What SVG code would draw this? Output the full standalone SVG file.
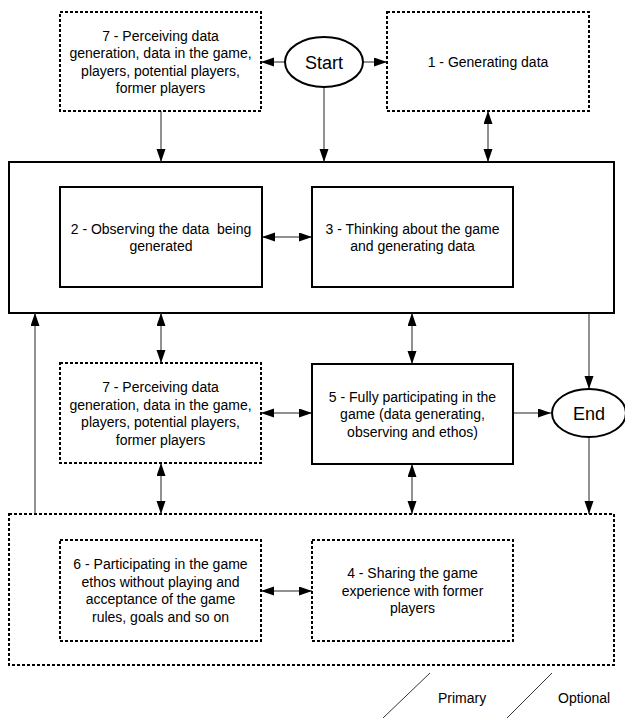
<svg xmlns="http://www.w3.org/2000/svg" width="625" height="718" viewBox="0 0 625 718">
  <style>
    .solid { fill: #ffffff; stroke: #000000; stroke-width: 2; }
    .dash { fill: #ffffff; stroke: #000000; stroke-width: 2; stroke-dasharray: 3 2; }
    .term { fill: #ffffff; stroke: #000000; stroke-width: 2; }
    .lbl { font-family: "Liberation Sans", Arial, sans-serif; font-size: 14px; fill: #000000; text-anchor: middle; }
    .big { font-size: 18px; }
    .leg { font-family: "Liberation Sans", Arial, sans-serif; font-size: 14px; fill: #000000; }
    .wire { fill: none; stroke: #222222; stroke-width: 1; }
    .one { marker-end: url(#head); }
    .two { marker-start: url(#head); marker-end: url(#head); }
  </style>
  <defs>
    <marker id="head" markerUnits="userSpaceOnUse" markerWidth="14" markerHeight="10" refX="13" refY="4.5" orient="auto-start-reverse">
      <path d="M0,0 L13,4.5 L0,9 Z" fill="#000000"/>
    </marker>
  </defs>

  <rect width="625" height="718" fill="#ffffff"/>

  <!-- outer group frames -->
  <g id="stage-top">
    <rect class="solid" x="9" y="162" width="605" height="151"/>
  </g>
  <g id="stage-bottom">
    <rect class="dash" x="9" y="514" width="605" height="151"/>
  </g>

  <!-- connectors -->
  <g id="connectors">
    <line class="wire one" x1="285" y1="62" x2="261" y2="62"/>
    <line class="wire one" x1="363" y1="62" x2="387" y2="62"/>
    <line class="wire one" x1="161" y1="111" x2="161" y2="162"/>
    <line class="wire one" x1="324" y1="87" x2="324" y2="162"/>
    <line class="wire two" x1="488" y1="111" x2="488" y2="162"/>
    <line class="wire two" x1="262" y1="237" x2="312" y2="237"/>
    <line class="wire two" x1="161" y1="313" x2="161" y2="363"/>
    <line class="wire two" x1="412" y1="313" x2="412" y2="364"/>
    <line class="wire one" x1="589" y1="313" x2="589" y2="389"/>
    <line class="wire one" x1="35" y1="514" x2="35" y2="313"/>
    <line class="wire two" x1="261" y1="413" x2="312" y2="413"/>
    <line class="wire one" x1="513" y1="413" x2="551" y2="413"/>
    <line class="wire two" x1="161" y1="463" x2="161" y2="514"/>
    <line class="wire two" x1="412" y1="464" x2="412" y2="514"/>
    <line class="wire one" x1="589" y1="437" x2="589" y2="514"/>
    <line class="wire two" x1="261" y1="591" x2="312" y2="591"/>
  </g>

  <g id="start">
    <ellipse class="term" cx="324" cy="62" rx="39" ry="25"/>
    <text class="lbl big" x="324" y="68.5">Start</text>
  </g>

  <g id="perceiving-top">
    <rect class="dash" x="60" y="12" width="201" height="99"/>
    <text class="lbl" x="160.5" y="40.5">7 - Perceiving data</text>
    <text class="lbl" x="160.5" y="58">generation, data in the game,</text>
    <text class="lbl" x="160.5" y="75.5">players, potential players,</text>
    <text class="lbl" x="160.5" y="93">former players</text>
  </g>

  <g id="generating">
    <rect class="dash" x="387" y="12" width="202" height="99"/>
    <text class="lbl" x="488" y="66.5">1 - Generating data</text>
  </g>

  <g id="observing">
    <rect class="solid" x="60" y="187" width="202" height="100"/>
    <text class="lbl" x="161" y="233.5" xml:space="preserve">2 - Observing the data  being</text>
    <text class="lbl" x="161" y="251">generated</text>
  </g>

  <g id="thinking">
    <rect class="solid" x="312" y="187" width="201" height="100"/>
    <text class="lbl" x="412.5" y="233.5">3 - Thinking about the game</text>
    <text class="lbl" x="412.5" y="251">and generating data</text>
  </g>

  <g id="perceiving-mid">
    <rect class="dash" x="60" y="363" width="201" height="100"/>
    <text class="lbl" x="160.5" y="392">7 - Perceiving data</text>
    <text class="lbl" x="160.5" y="409.5">generation, data in the game,</text>
    <text class="lbl" x="160.5" y="427">players, potential players,</text>
    <text class="lbl" x="160.5" y="444.5">former players</text>
  </g>

  <g id="participating">
    <rect class="solid" x="312" y="364" width="201" height="100"/>
    <text class="lbl" x="412.5" y="401.5">5 - Fully participating in the</text>
    <text class="lbl" x="412.5" y="419">game (data generating,</text>
    <text class="lbl" x="412.5" y="436.5">observing and ethos)</text>
  </g>

  <g id="end">
    <ellipse class="term" cx="589" cy="413" rx="37" ry="24"/>
    <text class="lbl big" x="589" y="419.5">End</text>
  </g>

  <g id="ethos">
    <rect class="dash" x="60" y="540" width="201" height="101"/>
    <text class="lbl" x="160.5" y="569">6 - Participating in the game</text>
    <text class="lbl" x="160.5" y="586.5">ethos without playing and</text>
    <text class="lbl" x="160.5" y="604">acceptance of the game</text>
    <text class="lbl" x="160.5" y="621.5">rules, goals and so on</text>
  </g>

  <g id="sharing">
    <rect class="dash" x="312" y="540" width="201" height="101"/>
    <text class="lbl" x="412.5" y="578">4 - Sharing the game</text>
    <text class="lbl" x="412.5" y="595.5">experience with former</text>
    <text class="lbl" x="412.5" y="613">players</text>
  </g>

  <!-- legend -->
  <g id="legend">
    <line x1="430" y1="673" x2="383" y2="718" stroke="#333333" stroke-width="1"/>
    <text class="leg" x="438" y="703">Primary</text>
    <line x1="552" y1="673" x2="507" y2="718" stroke="#333333" stroke-width="1"/>
    <text class="leg" x="558" y="703">Optional</text>
  </g>
</svg>
